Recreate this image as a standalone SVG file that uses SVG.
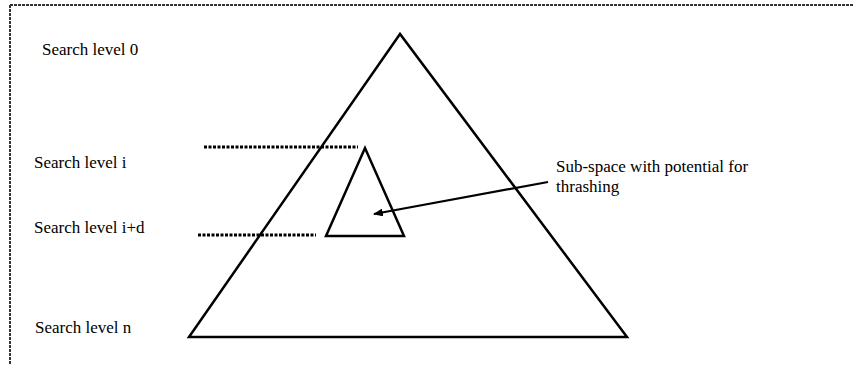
<svg xmlns="http://www.w3.org/2000/svg" width="853" height="365" viewBox="0 0 853 365">
<style>
.t{font-family:"Liberation Serif","Times New Roman",serif;font-size:17px;fill:#000}
.s{fill:none;stroke:#000;stroke-width:2.5;stroke-linejoin:miter}
.d{fill:none;stroke:#000;stroke-width:3;stroke-dasharray:3 1.5}
.b{fill:none;stroke:#333;stroke-width:2;stroke-dasharray:3 1}
</style>
<defs>
<marker id="ah" markerWidth="10" markerHeight="8" refX="9" refY="4" orient="auto" markerUnits="userSpaceOnUse">
<path d="M0,0 L10,4 L0,8 Z" fill="#000"/>
</marker>
</defs>
<g id="frame">
<line class="b" x1="10" y1="5" x2="853" y2="5"/>
<line class="b" x1="10" y1="5" x2="10" y2="365"/>
</g>
<g id="big-triangle"><polygon class="s" points="400,34 189,337 627,337"/></g>
<g id="small-triangle"><polygon class="s" points="365,148 326,236 404,236"/></g>
<g id="labels">
<text class="t" x="42" y="55">Search level 0</text>
<text class="t" x="34" y="168">Search level i</text>
<text class="t" x="34" y="233">Search level i+d</text>
<text class="t" x="35" y="333">Search level n</text>
<text class="t" x="556" y="172">Sub-space with potential for</text>
<text class="t" x="556" y="192">thrashing</text>
</g>
<g id="connectors">
<line class="d" x1="204" y1="147" x2="358" y2="147"/>
<line class="d" x1="198" y1="235" x2="316" y2="235"/>
<line x1="548" y1="182" x2="374" y2="214" stroke="#000" stroke-width="2.2" marker-end="url(#ah)"/>
</g>
</svg>
